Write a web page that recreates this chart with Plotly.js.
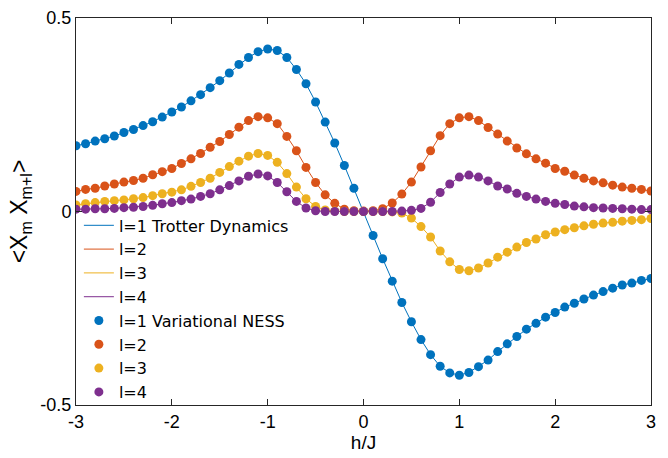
<!DOCTYPE html>
<html>
<head>
<meta charset="utf-8">
<script src="https://cdn.plot.ly/plotly-3.0.1.min.js"></script>
<style>
html,body{margin:0;padding:0;background:#fff;}
#chart{width:668px;height:458px;}
</style>
</head>
<body>
<div id="chart"></div>
<script>
// h/J values
var hJ = [-3.0,-2.9,-2.8,-2.7,-2.6,-2.5,-2.4,-2.3,-2.2,-2.1,-2.0,-1.9,-1.8,-1.7,-1.6,-1.5,-1.4,-1.3,-1.2,-1.1,-1.0,-0.9,-0.8,-0.7,-0.6,-0.5,-0.4,-0.3,-0.2,-0.1,0.0,0.1,0.2,0.3,0.4,0.5,0.6,0.7,0.8,0.9,1.0,1.1,1.2,1.3,1.4,1.5,1.6,1.7,1.8,1.9,2.0,2.1,2.2,2.3,2.4,2.5,2.6,2.7,2.8,2.9,3.0];

var l1 = [0.170,0.175,0.182,0.188,0.195,0.204,0.212,0.222,0.232,0.244,0.257,0.270,0.286,0.302,0.320,0.338,0.358,0.380,0.398,0.413,0.420,0.416,0.398,0.367,0.330,0.283,0.231,0.177,0.119,0.060,0.000,-0.062,-0.122,-0.180,-0.235,-0.285,-0.331,-0.370,-0.400,-0.417,-0.423,-0.416,-0.401,-0.384,-0.362,-0.342,-0.323,-0.304,-0.289,-0.273,-0.261,-0.247,-0.237,-0.226,-0.216,-0.207,-0.198,-0.190,-0.185,-0.178,-0.173];

var l2 = [0.052,0.057,0.060,0.066,0.071,0.076,0.080,0.086,0.095,0.103,0.111,0.124,0.136,0.150,0.166,0.181,0.199,0.218,0.235,0.245,0.242,0.227,0.194,0.157,0.114,0.075,0.043,0.021,0.006,0.002,0.001,0.002,0.007,0.022,0.045,0.076,0.115,0.157,0.196,0.227,0.242,0.245,0.235,0.217,0.200,0.182,0.164,0.149,0.136,0.125,0.111,0.104,0.094,0.086,0.079,0.074,0.068,0.063,0.060,0.057,0.053];

var l3 = [0.017,0.020,0.023,0.026,0.028,0.030,0.033,0.036,0.041,0.046,0.050,0.056,0.065,0.075,0.086,0.101,0.116,0.130,0.143,0.150,0.145,0.127,0.098,0.063,0.033,0.013,0.004,0.001,0.000,0.000,0.000,0.000,0.000,-0.001,-0.004,-0.017,-0.039,-0.066,-0.102,-0.130,-0.150,-0.153,-0.146,-0.133,-0.118,-0.105,-0.092,-0.080,-0.071,-0.060,-0.053,-0.047,-0.042,-0.037,-0.033,-0.030,-0.028,-0.025,-0.023,-0.021,-0.018];

var l4 = [0.006,0.006,0.007,0.007,0.008,0.010,0.011,0.013,0.016,0.020,0.023,0.028,0.032,0.039,0.046,0.056,0.067,0.079,0.091,0.097,0.092,0.075,0.051,0.026,0.009,0.002,0.000,0.000,0.000,0.000,0.000,0.000,0.000,0.000,0.001,0.003,0.008,0.024,0.049,0.071,0.089,0.094,0.089,0.079,0.066,0.058,0.047,0.039,0.032,0.026,0.021,0.018,0.014,0.012,0.010,0.009,0.008,0.007,0.006,0.005,0.005];

var seriesY = [l1, l2, l3, l4];
var lineNames = ["l=1 Trotter Dynamics", "l=2", "l=3", "l=4"];
var markerNames = ["l=1 Variational NESS", "l=2", "l=3", "l=4"];
var colors = ["#0072BD", "#D95319", "#EDB120", "#7E2F8E"];

var traces = [];
for (var i = 0; i < 4; i++) {
  traces.push({
    x: hJ, y: seriesY[i], type: "scatter", mode: "lines",
    name: lineNames[i], line: {color: colors[i], width: 1}
  });
}
for (var j = 0; j < 4; j++) {
  traces.push({
    x: hJ, y: seriesY[j], type: "scatter", mode: "markers",
    name: markerNames[j], marker: {color: colors[j], size: 9}
  });
}

var axisCommon = {
  showgrid: false, zeroline: false, showline: true, mirror: "ticks",
  linecolor: "#262626", linewidth: 1, ticks: "inside", ticklen: 6,
  tickcolor: "#262626", tickfont: {family: "Liberation Sans, Arial, sans-serif", size: 18, color: "#000"}
};

var layout = {
  width: 668, height: 458,
  margin: {l: 76, r: 17, t: 18, b: 53},
  paper_bgcolor: "#fff", plot_bgcolor: "#fff",
  showlegend: true,
  xaxis: Object.assign({}, axisCommon, {
    range: [-3, 3], tickmode: "array", tickvals: [-3,-2,-1,0,1,2,3],
    ticktext: ["-3","-2","-1","0","1","2","3"],
    title: {text: "h/J", font: {family: "Liberation Sans, Arial, sans-serif", size: 19, color: "#000"}, standoff: 4}
  }),
  yaxis: Object.assign({}, axisCommon, {
    range: [-0.5, 0.5], tickmode: "array", tickvals: [-0.5, 0, 0.5],
    ticktext: ["-0.5", "0", "0.5"],
    title: {text: "&lt;X<sub>m</sub> X<sub>m+l</sub>&gt;", font: {family: "Liberation Sans, Arial, sans-serif", size: 23, color: "#000"}, standoff: 6}
  }),
  legend: {
    x: 0.005, y: 0.508, xanchor: "left", yanchor: "top",
    bgcolor: "rgba(0,0,0,0)", borderwidth: 0,
    font: {family: "DejaVu Sans, sans-serif", size: 16, color: "#000"},
    itemwidth: 30, tracegroupgap: 0
  }
};

Plotly.newPlot("chart", traces, layout, {displayModeBar: false, staticPlot: true});
</script>
</body>
</html>
